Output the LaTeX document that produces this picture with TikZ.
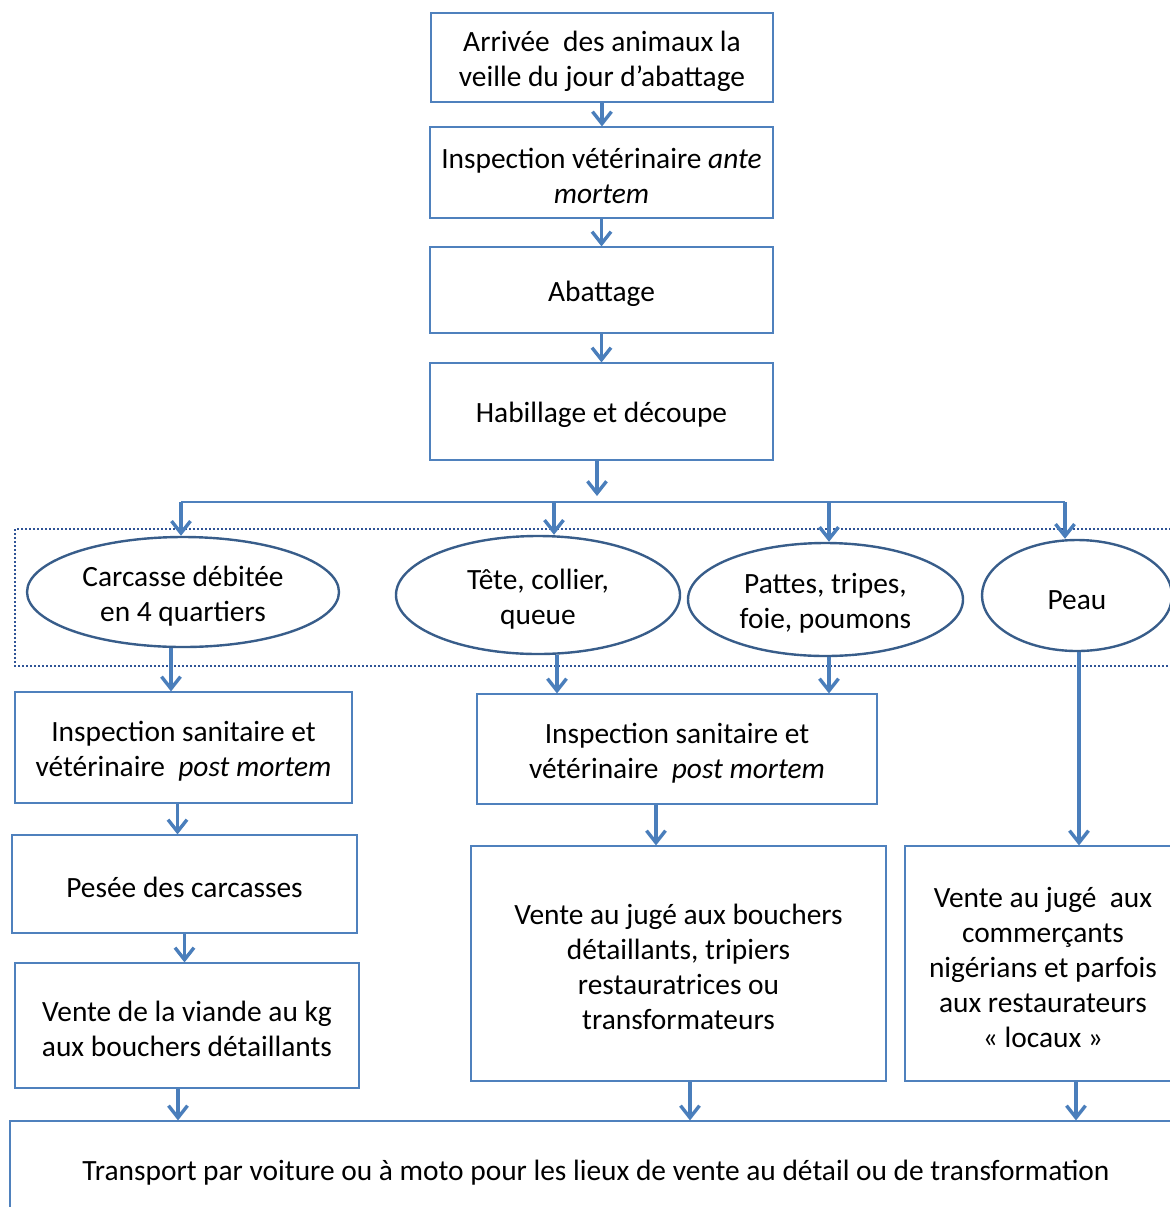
\documentclass[tikz,border=0pt]{standalone}
\usepackage{fontspec}
\setmainfont{Carlito}
\usetikzlibrary{arrows.meta,shapes.geometric,positioning}
\definecolor{boxblue}{RGB}{79,129,189}
\definecolor{ellblue}{RGB}{56,93,138}
\definecolor{arrblue}{RGB}{74,126,187}
\definecolor{dotblue}{RGB}{47,84,150}

\tikzset{
  lowtext/.style={execute at begin node={\rule{0pt}{\dimexpr 14pt+17.5pt*\numexpr#1-1\relax\relax}}},
  lowtext/.default=1,
  stepbox/.style={draw=boxblue, line width=0.6pt, align=center, inner sep=0pt, lowtext},
  partell/.style={ellipse, draw=ellblue, line width=1.2pt, align=center, inner sep=0pt, lowtext},
  arr/.style={draw=arrblue, line width=1.7pt, -{Straight Barb[length=6pt,width=9.5pt,line width=1.7pt]}},
  branch/.style={draw=boxblue, line width=0.6pt},
}

\begin{document}
\begin{tikzpicture}[x=0.5pt,y=-0.5pt, font=\fontsize{14.7}{17.5}\selectfont]
    \useasboundingbox (0,0) rectangle (1170,1207);
    \clip (0,0) rectangle (1170,1207);

    % main chain
    \node[stepbox, lowtext=2, minimum width=171pt, minimum height=44.5pt] (arrivee) at (602,57.5) {Arrivée~ des animaux la\\veille du jour d’abattage};
    \node[stepbox, lowtext=2, minimum width=171.5pt, minimum height=45.5pt] (ante) at (601.5,172.5) {Inspection vétérinaire \emph{ante}\\\emph{mortem}};
    \node[stepbox, minimum width=171.5pt, minimum height=43pt] (abattage) at (601.5,290) {Abattage};
    \node[stepbox, minimum width=171.5pt, minimum height=48.5pt] (habillage) at (601.5,411.5) {Habillage et découpe};

    % parts
    \draw[dotblue, line width=1.1pt, dash pattern=on 1pt off 1pt] (15,529) rectangle (1190,666);
    \node[partell, lowtext=2, minimum width=156pt, minimum height=55pt] (carcasse) at (183,592) {Carcasse débitée\\en 4 quartiers};
    \node[partell, lowtext=2, minimum width=142pt, minimum height=59pt] (tete) at (538,595) {Tête, collier,\\queue};
    \node[partell, lowtext=2, minimum width=137.5pt, minimum height=56.5pt] (pattes) at (825.5,599.5) {Pattes, tripes,\\foie, poumons};
    \node[partell, minimum width=95pt, minimum height=55.5pt] (peau) at (1077,595.5) {Peau};

    % left column
    \node[stepbox, lowtext=2, minimum width=168.5pt, minimum height=55.5pt] (postm1) at (183.5,747.5) {Inspection sanitaire et\\vétérinaire~ \emph{post mortem}};
    \node[stepbox, minimum width=172.5pt, minimum height=49pt] (pesee) at (184.5,884) {Pesée des carcasses};
    \node[stepbox, lowtext=2, minimum width=172pt, minimum height=62.5pt] (ventekg) at (187,1025.5) {Vente de la viande au kg\\aux bouchers détaillants};

    % middle column
    \node[stepbox, lowtext=2, minimum width=200pt, minimum height=55pt] (postm2) at (677,749) {Inspection sanitaire et\\vétérinaire~ \emph{post mortem}};
    \node[stepbox, lowtext=4, minimum width=207.5pt, minimum height=117.5pt] (ventejuge) at (678.5,963.5) {Vente au jugé aux bouchers\\détaillants, tripiers\\restauratrices ou\\transformateurs};

    % right column
    \node[stepbox, lowtext=5, minimum width=138pt, minimum height=117.5pt] (ventepeau) at (1043,963.5) {Vente au jugé~ aux\\commerçants\\nigérians et parfois\\aux restaurateurs\\«~locaux~»};

    % bottom
    \node[stepbox, minimum width=586pt, minimum height=48pt] (transport) at (596,1169) {Transport par voiture ou à moto pour les lieux de vente au détail ou de transformation};

    % chain arrows
    \draw[arr] (arrivee.south) -- (arrivee.south |- ante.north);
    \draw[arr] (ante.south) -- (ante.south |- abattage.north);
    \draw[arr] (abattage.south) -- (abattage.south |- habillage.north);

    % split
    \coordinate (split) at (597,502);
    \coordinate (s1) at (181,502);
    \coordinate (s2) at (554,502);
    \coordinate (s3) at (829,502);
    \coordinate (s4) at (1065,502);
    \draw[arr, shorten >=3pt] (habillage.south -| split) -- (split);
    \draw[branch] (s1) -- (s4);
    \draw[arr] (s1) -- (s1 |- carcasse.north);
    \draw[arr] (s2) -- (s2 |- tete.north);
    \draw[arr] (s3) -- (s3 |- pattes.north);
    \draw[arr] (s4) -- (s4 |- peau.north);

    % down arrows
    \draw[arr] ([xshift=-6pt]carcasse.south) -- ([xshift=-6pt]carcasse.south |- postm1.north);
    \draw[arr] ([xshift=-3pt]postm1.south) -- ([xshift=-3pt]postm1.south |- pesee.north);
    \draw[arr] (pesee.south) -- (pesee.south |- ventekg.north);
    \draw[arr] ([xshift=-4.5pt]ventekg.south) -- ([xshift=-4.5pt]ventekg.south |- transport.north);

    \draw[arr] ([xshift=9.5pt]tete.south) -- ([xshift=9.5pt]tete.south |- postm2.north);
    \draw[arr] ([xshift=1.75pt]pattes.south) -- ([xshift=1.75pt]pattes.south |- postm2.north);
    \draw[arr] ([xshift=-10.5pt]postm2.south) -- ([xshift=-10.5pt]postm2.south |- ventejuge.north);
    \draw[arr] ([xshift=5.75pt]ventejuge.south) -- ([xshift=5.75pt]ventejuge.south |- transport.north);

    \draw[arr] ([xshift=1pt]peau.south) -- ([xshift=1pt]peau.south |- ventepeau.north);
    \draw[arr] ([xshift=16.5pt]ventepeau.south) -- ([xshift=16.5pt]ventepeau.south |- transport.north);
\end{tikzpicture}
\end{document}
